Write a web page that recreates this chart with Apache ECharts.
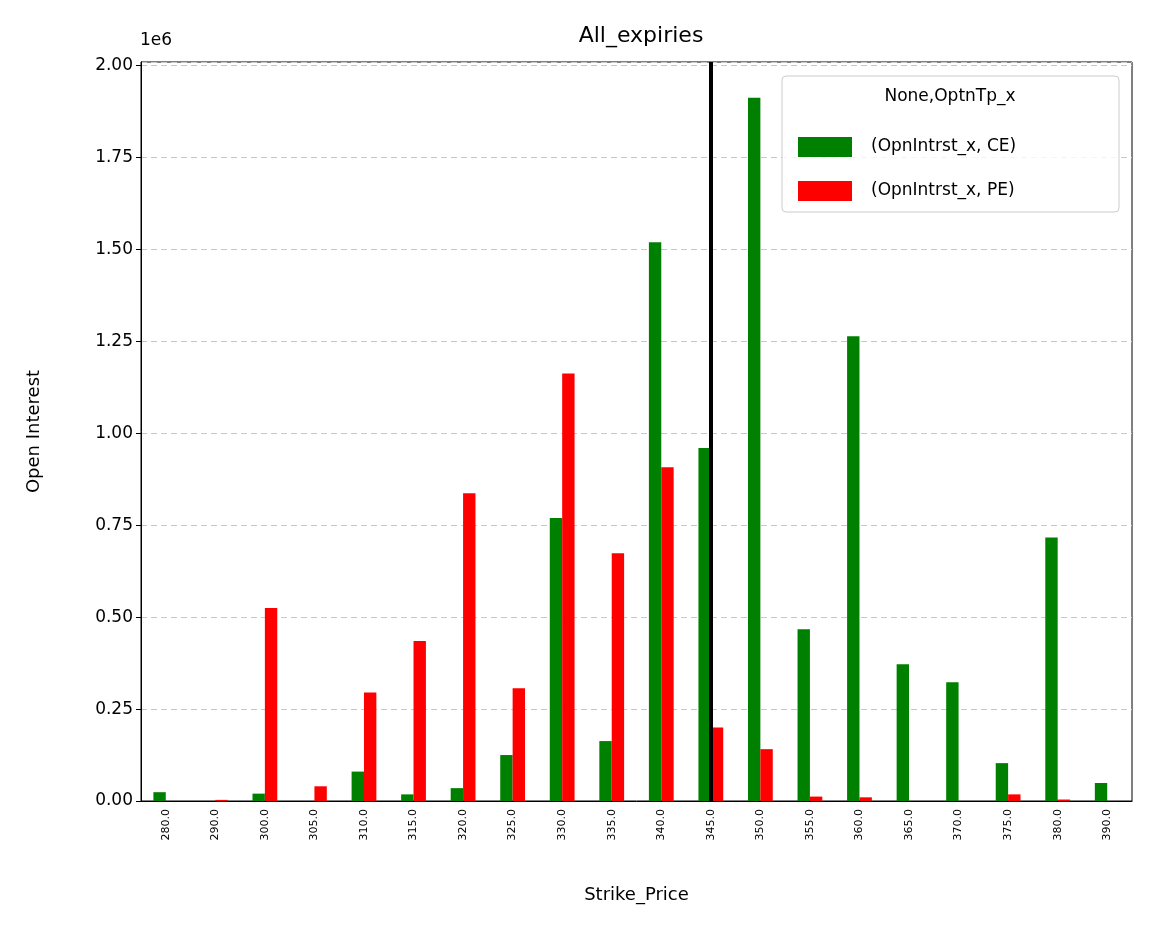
<!DOCTYPE html>
<html><head><meta charset="utf-8">
<script src="https://cdn.jsdelivr.net/npm/echarts@6/dist/echarts.min.js"></script>
<style>html,body{margin:0;padding:0;background:#fff}#c{width:1152px;height:928px}</style>
</head><body><div id="c"></div>
<script>
const categories = ['280.0','290.0','300.0','305.0','310.0','315.0','320.0','325.0','330.0','335.0','340.0','345.0','350.0','355.0','360.0','365.0','370.0','375.0','380.0','390.0'];
const ceValues = [24000,0,20000,0,80000,18000,35000,125000,770000,163000,1520000,960000,1913000,467000,1264000,372000,323000,103000,717000,49000];
const peValues = [0,3000,525000,40000,295000,435000,837000,307000,1163000,674000,908000,200000,141000,12000,10000,0,0,18000,4000,0];
const spotStrike = '345.0';
const font = 'DejaVu Sans';
const chart = echarts.init(document.getElementById('c'));
chart.setOption({
  animation:false,
  textStyle:{fontFamily:font},
  title:{text:'All_expiries',left:636,top:20,textAlign:'center',textStyle:{fontFamily:font,fontSize:22,fontWeight:'normal',color:'#000'}},
  grid:{left:141,right:20,top:62,bottom:127},
  legend:{orient:'vertical',left:793,top:132,itemWidth:54,itemHeight:20,itemGap:24,icon:'rect',
    textStyle:{fontFamily:font,fontSize:17,color:'#000',padding:[0,0,0,14]},
    data:['(OpnIntrst_x, CE)','(OpnIntrst_x, PE)']},
  graphic:[
    {type:'rect',shape:{x:782,y:76,width:337,height:136,r:4},style:{fill:'rgba(255,255,255,0.8)',stroke:'#ccc',lineWidth:1},z:1},
    {type:'text',x:950,y:88,style:{text:'None,OptnTp_x',fontFamily:font,fontSize:17,fill:'#000',align:'center'},z:2},
    {type:'text',x:140,y:32,style:{text:'1e6',fontFamily:font,fontSize:17,fill:'#000'}},
    {type:'rect',shape:{x:141,y:62,width:991,height:739},style:{fill:'none',stroke:'#000',lineWidth:1},z:0,silent:true}
  ],
  xAxis:{type:'category',data:categories,name:'Strike_Price',nameLocation:'middle',nameGap:85,
    nameTextStyle:{fontFamily:font,fontSize:18,color:'#000'},
    axisLine:{show:true,onZero:false,lineStyle:{color:'#000'}},
    axisTick:{alignWithLabel:true,lineStyle:{color:'#000'}},
    axisLabel:{rotate:90,fontSize:11,color:'#000',fontFamily:font}},
  yAxis:{type:'value',min:0,max:2010000,interval:250000,name:'Open Interest',nameLocation:'middle',nameGap:98,
    nameTextStyle:{fontFamily:font,fontSize:18,color:'#000'},
    axisLine:{show:true,lineStyle:{color:'#000'}},axisTick:{show:true,lineStyle:{color:'#000'}},
    axisLabel:{fontSize:17,color:'#000',fontFamily:font,showMaxLabel:false,formatter:v=>(v/1e6).toFixed(2)},
    splitLine:{show:true,lineStyle:{color:'#c8c8c8',type:[6,4]}}},
  series:[
    {name:'(OpnIntrst_x, CE)',type:'bar',data:ceValues,itemStyle:{color:'#008000'},barGap:'0%',barCategoryGap:'50%'},
    {name:'(OpnIntrst_x, PE)',type:'bar',data:peValues,itemStyle:{color:'#ff0000'}},
    {name:'spot',type:'line',data:[],z:5,
      markLine:{silent:true,symbol:'none',label:{show:false},lineStyle:{color:'#000',width:4,type:'solid'},data:[{xAxis:spotStrike}]}}
  ]
});
</script></body></html>
